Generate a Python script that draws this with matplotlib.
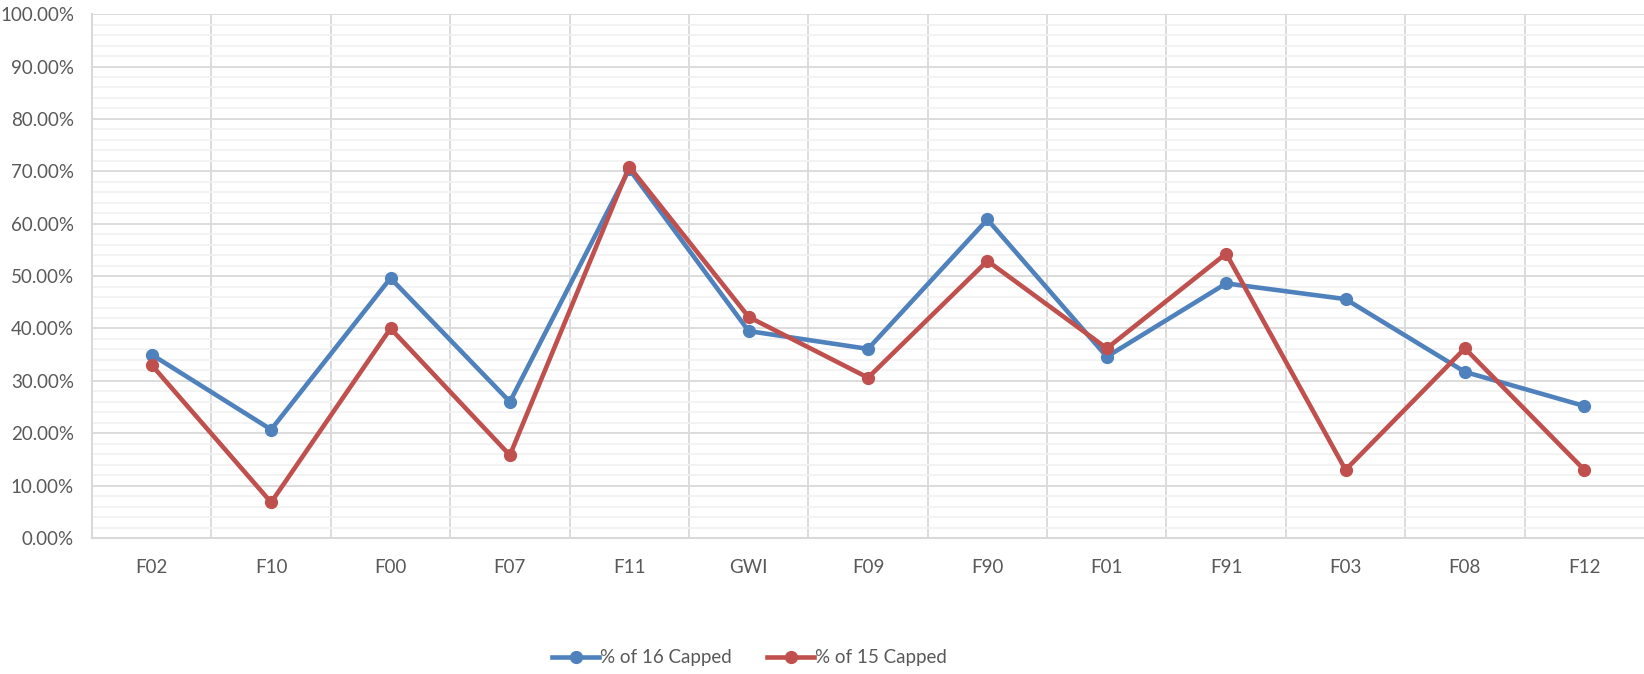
import matplotlib.pyplot as plt
from matplotlib.ticker import MultipleLocator, FuncFormatter

plt.rcParams['font.family'] = ['Lato', 'DejaVu Sans']

categories = ['F02', 'F10', 'F00', 'F07', 'F11', 'GWI', 'F09', 'F90', 'F01', 'F91', 'F03', 'F08', 'F12']
capped_16 = [35.0, 20.7, 49.6, 26.0, 70.4, 39.5, 36.1, 60.8, 34.6, 48.6, 45.6, 31.7, 25.2]
capped_15 = [33.0, 6.8, 40.0, 15.8, 70.9, 42.2, 30.6, 52.9, 36.2, 54.3, 13.0, 36.2, 13.0]

fig = plt.figure(figsize=(16.44, 6.74), dpi=100)
ax = fig.add_axes([0.056, 0.2018, 0.944, 0.7772])

x = range(len(categories))
ax.plot(x, capped_16, color='#4F81BD', lw=3.3, marker='o', ms=8.5, label='% of 16 Capped',
        solid_joinstyle='round', zorder=3)
ax.plot(x, capped_15, color='#C0504D', lw=3.3, marker='o', ms=8.5, label='% of 15 Capped',
        solid_joinstyle='round', zorder=4)

ax.set_xlim(-0.5, len(categories) - 0.5)
ax.set_ylim(0, 100)
ax.set_xticks(list(x))
ax.set_xticklabels(categories)
ax.set_xticks([i + 0.5 for i in range(len(categories) - 1)], minor=True)
ax.yaxis.set_major_locator(MultipleLocator(10))
ax.yaxis.set_minor_locator(MultipleLocator(2))
ax.yaxis.set_major_formatter(FuncFormatter(lambda v, p: f'{v:.2f}%'))

ax.grid(which='major', axis='y', color='#D9D9D9', lw=1.3, zorder=1)
ax.grid(which='minor', axis='y', color='#F2F2F2', lw=1.3, zorder=0)
ax.grid(which='minor', axis='x', color='#D9D9D9', lw=1.3, zorder=1)
ax.set_axisbelow(True)

ax.tick_params(which='both', length=0, colors='#595959', labelsize=13.5)
ax.tick_params(axis='x', pad=15)
ax.tick_params(axis='y', pad=13)
for s in ['top', 'right']:
    ax.spines[s].set_visible(False)
for s in ['left', 'bottom']:
    ax.spines[s].set_color('#D9D9D9')
    ax.spines[s].set_linewidth(1.5)

fig.legend(loc='center', bbox_to_anchor=(0.456, 0.024), ncol=2, frameon=False,
           fontsize=13.5, labelcolor='#595959', handlelength=2.5, handletextpad=0.05,
           columnspacing=1.9)

fig.savefig('out.png', dpi=100)
